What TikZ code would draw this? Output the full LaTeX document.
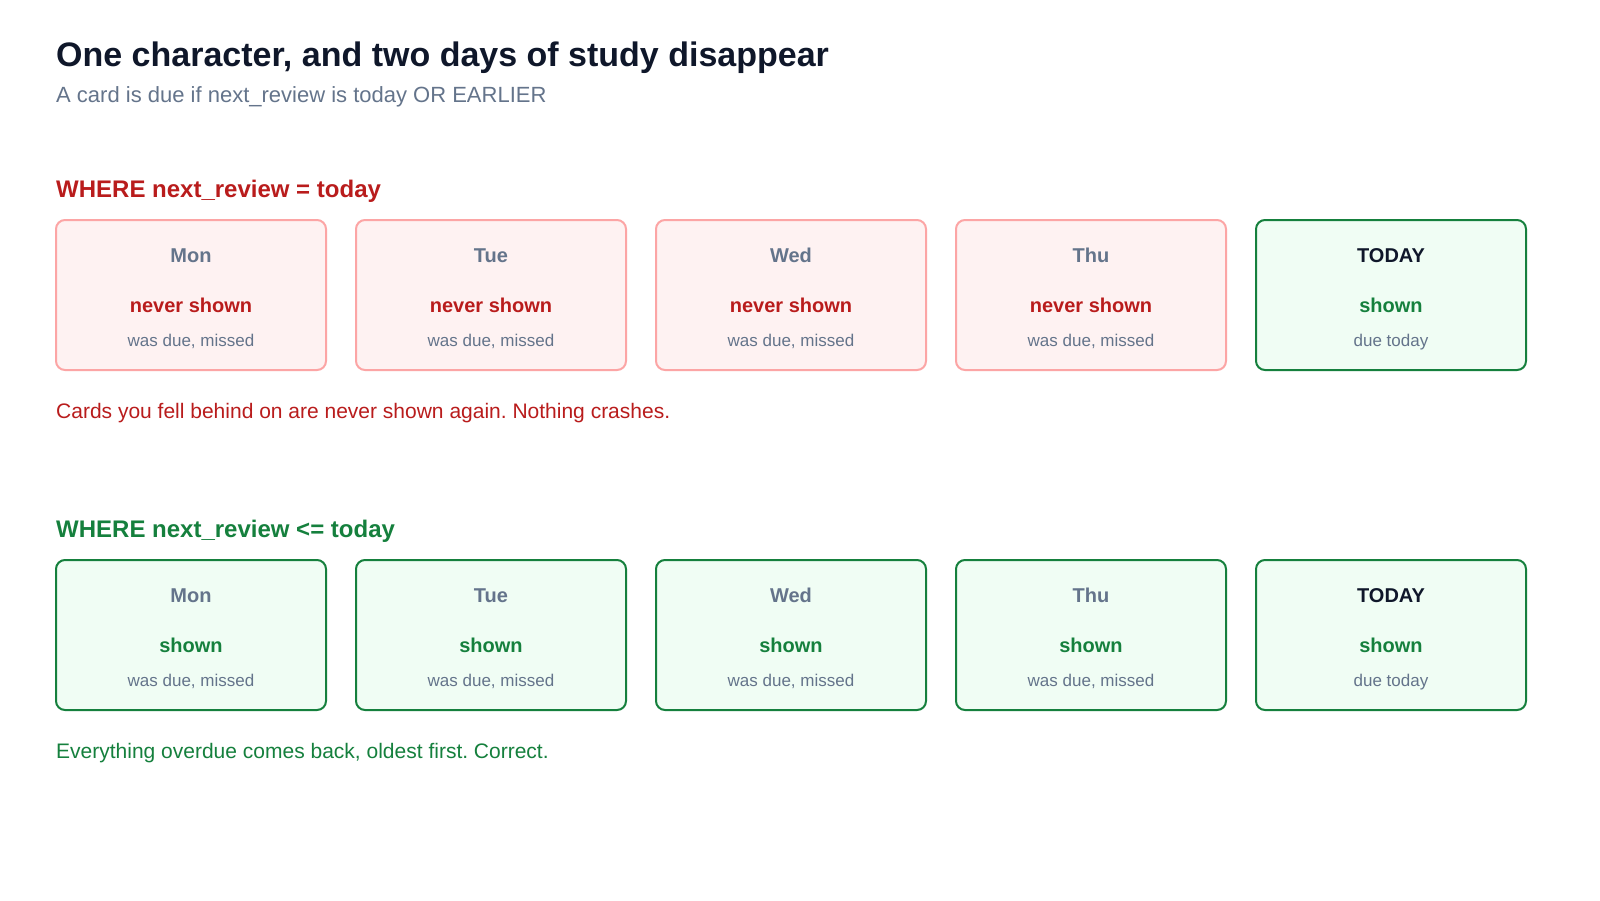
\documentclass[tikz,border=0pt]{standalone}
\usepackage{fontspec}
\setmainfont{Liberation Sans}
\frenchspacing
\definecolor{ink}{HTML}{0F172A}
\definecolor{slate}{HTML}{64748B}
\definecolor{bad}{HTML}{B91C1C}
\definecolor{badfill}{HTML}{FEF2F2}
\definecolor{badline}{HTML}{FCA5A5}
\definecolor{good}{HTML}{15803D}
\definecolor{goodfill}{HTML}{F0FDF4}
\tikzset{
  txt/.style={inner sep=0pt, anchor=base west},
  ctr/.style={inner sep=0pt, anchor=base},
  card/.style={minimum width=270pt, minimum height=150pt, rounded corners=9pt, line width=2pt, inner sep=0pt},
  badcard/.style={card, draw=badline, fill=badfill},
  goodcard/.style={card, draw=good, fill=goodfill},
  daylbl/.style={ctr, text=slate, font=\fontsize{20}{24}\selectfont\bfseries},
  todaylbl/.style={ctr, text=ink, font=\fontsize{20}{24}\selectfont\bfseries},
  badstat/.style={ctr, text=bad, font=\fontsize{20}{24}\selectfont\bfseries},
  goodstat/.style={ctr, text=good, font=\fontsize{20}{24}\selectfont\bfseries},
  note/.style={ctr, text=slate, font=\fontsize{17}{20}\selectfont},
}
\begin{document}
\begin{tikzpicture}[x=1pt,y=-1pt]
\useasboundingbox[fill=white] (0,0) rectangle (1600,900);
\node[txt, text=ink, font=\fontsize{34}{40}\selectfont\bfseries] (title) at (56,66) {One character, and two days of study disappear};
\node[txt, text=slate, font=\fontsize{22}{26}\selectfont] (sub) at (56,102) {A card is due if next\_review is today OR EARLIER};
\node[txt, text=bad, font=\fontsize{24}{28}\selectfont\bfseries] (h1) at (56,197) {WHERE next\_review = today};
\node[txt, text=good, font=\fontsize{24}{28}\selectfont\bfseries] (h2) at (56,537) {WHERE next\_review <= today};
\node[txt, text=bad, font=\fontsize{21}{25}\selectfont] (c1) at (56,418) {Cards you fell behind on are never shown again. Nothing crashes.};
\node[txt, text=good, font=\fontsize{21}{25}\selectfont] (c2) at (56,758) {Everything overdue comes back, oldest first. Correct.};
% row 1
\foreach \i/\d in {0/Mon,1/Tue,2/Wed,3/Thu}{
  \node[badcard] (ra\i) at (191+300*\i,295) {};
  \node[daylbl] (rad\i) at (191+300*\i,262) {\d};
  \node[badstat] (ras\i) at (191+300*\i,312) {never shown};
  \node[note] (ran\i) at (191+300*\i,346) {was due, missed};
}
\node[goodcard] (ra4) at (1391,295) {};
\node[todaylbl] (rad4) at (1391,262) {TODAY};
\node[goodstat] (ras4) at (1391,312) {shown};
\node[note] (ran4) at (1391,346) {due today};
% row 2
\foreach \i/\d in {0/Mon,1/Tue,2/Wed,3/Thu}{
  \node[goodcard] (rb\i) at (191+300*\i,635) {};
  \node[daylbl] (rbd\i) at (191+300*\i,602) {\d};
  \node[goodstat] (rbs\i) at (191+300*\i,652) {shown};
  \node[note] (rbn\i) at (191+300*\i,686) {was due, missed};
}
\node[goodcard] (rb4) at (1391,635) {};
\node[todaylbl] (rbd4) at (1391,602) {TODAY};
\node[goodstat] (rbs4) at (1391,652) {shown};
\node[note] (rbn4) at (1391,686) {due today};
\end{tikzpicture}
\end{document}
